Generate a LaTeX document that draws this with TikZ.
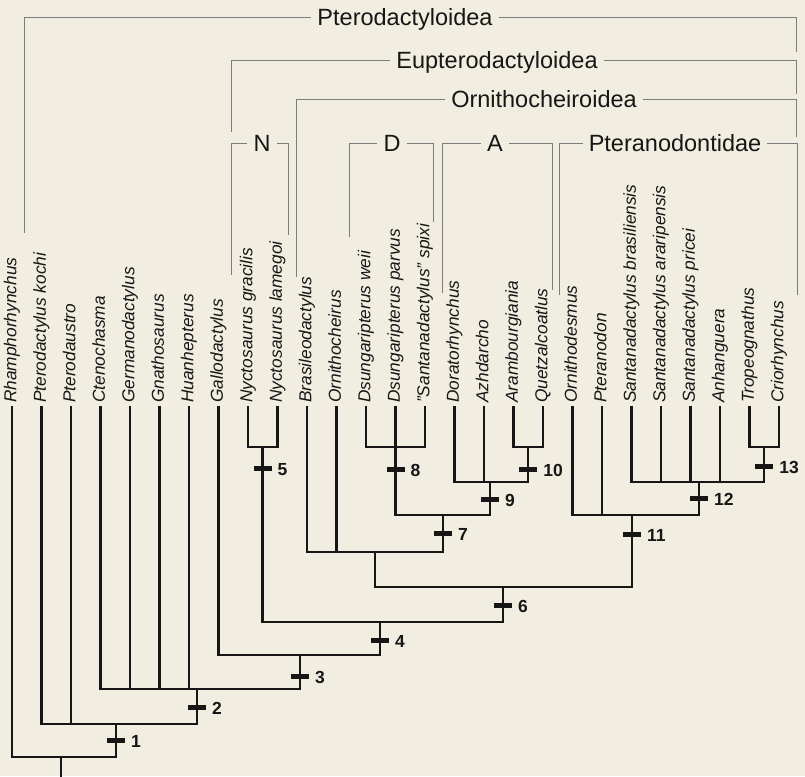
\documentclass[tikz,border=0pt]{standalone}
\usepackage{fontspec}
\setmainfont{Liberation Sans}
\definecolor{bg}{RGB}{241,238,225}
\definecolor{ink}{RGB}{22,22,22}
\definecolor{brk}{RGB}{125,125,125}
\tikzset{
  branch/.style={draw=ink, line width=2.2pt, line join=miter, line cap=rect},
  bracket/.style={draw=brk, line width=0.9pt},
  taxon/.style={rotate=90, anchor=west, inner sep=0pt, text=ink,
    font=\fontsize{17.3}{20}\selectfont\itshape, text height=12.5pt, text depth=3.6pt},
  clade/.style={inner xsep=6pt, inner ysep=0pt, text=ink,
    font=\fontsize{23.5}{28}\selectfont, text height=16.9pt, text depth=0pt},
  tickbar/.style={fill=ink, minimum width=18pt, minimum height=5pt, inner sep=0pt},
  num/.style={anchor=west, inner sep=0pt, text=ink,
    font=\fontsize{17.5}{20}\selectfont\bfseries, text height=12.6pt, text depth=0pt},
}
\begin{document}
\begin{tikzpicture}[x=1pt,y=-1pt]
\fill[bg] (0,0) rectangle (805,776);
\useasboundingbox (0,0) rectangle (805,776);

% taxa
\foreach \i/\t in {1/Rhamphorhynchus, 2/Pterodactylus kochi, 3/Pterodaustro,
  4/Ctenochasma, 5/Germanodactylus, 6/Gnathosaurus, 7/Huanhepterus,
  8/Gallodactylus, 9/Nyctosaurus gracilis, 10/Nyctosaurus lamegoi,
  11/Brasileodactylus, 12/Ornithocheirus, 13/Dsungaripterus weii,
  14/Dsungaripterus parvus, 15/"Santanadactylus" spixi, 16/Doratorhynchus,
  17/Azhdarcho, 18/Arambourgiania, 19/Quetzalcoatlus, 20/Ornithodesmus,
  21/Pteranodon, 22/Santanadactylus brasiliensis, 23/Santanadactylus araripensis,
  24/Santanadactylus pricei, 25/Anhanguera, 26/Tropeognathus, 27/Criorhynchus}{
  \node[taxon] (t\i) at ({12+29.5*(\i-1)},403) {\t};
  \coordinate (l\i) at ({12+29.5*(\i-1)},407);
}

% internal nodes
\coordinate (root) at (61,757);
\coordinate (rootend) at (61,776);
\coordinate (n1) at (116,724);
\coordinate (n2) at (197,689);
\coordinate (n3) at (300,655);
\coordinate (n4) at (380,622);
\coordinate (n5) at (262.5,447);
\coordinate (n6) at (503,587);
\coordinate (nX) at (375,552);
\coordinate (n7) at (443,515);
\coordinate (n8) at (395.5,447);
\coordinate (n9) at (490,482);
\coordinate (n10) at (528.25,447);
\coordinate (n11) at (632,515);
\coordinate (n12) at (699,482);
\coordinate (n13) at (764.25,447);

\foreach \c/\p in {l1/root, n1/root, l2/n1, l3/n1, n2/n1,
  l4/n2, l5/n2, l6/n2, l7/n2, n3/n2, l8/n3, n4/n3, n5/n4, n6/n4,
  l9/n5, l10/n5, nX/n6, n11/n6, l11/nX, l12/nX, n7/nX, n8/n7, n9/n7,
  l13/n8, l14/n8, l15/n8, l16/n9, l17/n9, n10/n9, l18/n10, l19/n10,
  l20/n11, l21/n11, n12/n11, l22/n12, l23/n12, l24/n12, l25/n12, n13/n12,
  l26/n13, l27/n13}{
  \draw[branch] (\c) |- (\p);
}
\draw[branch] (root) -- (rootend);

% ticks and numbers
\foreach \k/\x/\y in {1/116/740, 2/197/707, 3/300/676, 4/380/640, 5/262.5/468,
  6/503/605, 7/443/533, 8/395.5/469, 9/490/499, 10/528.25/469, 11/632/534,
  12/699/498, 13/764.25/466}{
  \node[tickbar] (k\k) at (\x,\y) {};
  \node[num] (m\k) at (\x+15,\y+1) {\k};
}

% clade brackets
\node[clade] (cPtero) at (405,17) {Pterodactyloidea};
\node[clade] (cEupt) at (497,60) {Eupterodactyloidea};
\node[clade] (cOrn) at (544,99) {Ornithocheiroidea};
\node[clade] (cN) at (262,143) {N};
\node[clade] (cD) at (392,143) {D};
\node[clade] (cA) at (495,143) {A};
\node[clade] (cPtn) at (675,143) {Pteranodontidae};

\coordinate (bPl) at (24,233);   \coordinate (bPr) at (796,52);
\coordinate (bEl) at (231,132);  \coordinate (bEr) at (796,94);
\coordinate (bOl) at (296,277);  \coordinate (bOr) at (796,137);
\coordinate (bNl) at (231,275);  \coordinate (bNr) at (288,235);
\coordinate (bDl) at (349,237);  \coordinate (bDr) at (433,222);
\coordinate (bAl) at (442,293);  \coordinate (bAr) at (552,290);
\coordinate (bTl) at (559,295);  \coordinate (bTr) at (797,295);

\foreach \l/\c/\r in {bPl/cPtero/bPr, bEl/cEupt/bEr, bOl/cOrn/bOr,
  bNl/cN/bNr, bDl/cD/bDr, bAl/cA/bAr, bTl/cPtn/bTr}{
  \draw[bracket] (\l) |- (\c);
  \draw[bracket] (\c) -| (\r);
}
\end{tikzpicture}
\end{document}
